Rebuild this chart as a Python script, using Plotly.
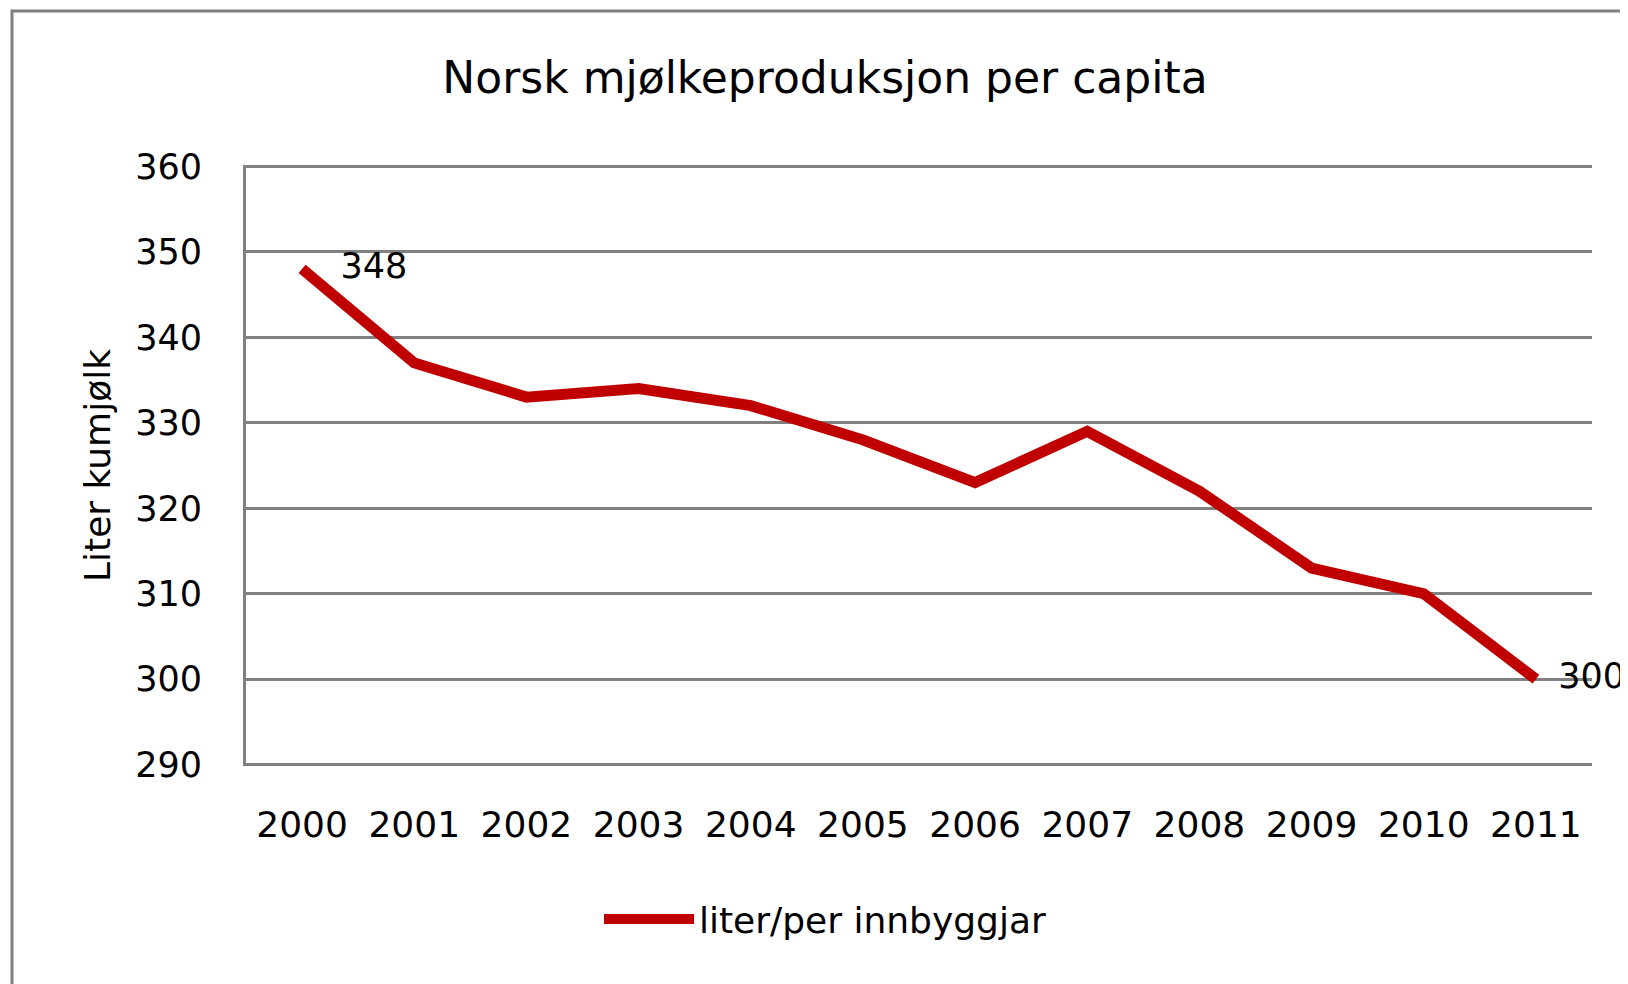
import plotly.graph_objects as go

years = ['2000', '2001', '2002', '2003', '2004', '2005',
         '2006', '2007', '2008', '2009', '2010', '2011']
litres = [348, 337, 333, 334, 332, 328, 323, 329, 322, 313, 310, 300]
y_ticks = [290, 300, 310, 320, 330, 340, 350, 360]

RED = '#C00000'
GREY = '#808080'

# page body has an 8px default margin, so the figure starts at (8, 8)
OFF = 8
W, H = 1628 - OFF, 984 - OFF
L, T = 246 - OFF, 166 - OFF - 1
pw, ph = 1346, 601
R, B = W - L - pw, H - T - ph


def px_x(x):
    return (x - OFF - L) / pw


def px_y(y):
    return (T + ph - (y - OFF)) / ph


fig = go.Figure()

# data labels on first and last point (invisible markers set the text offset)
lab_idx = [0, len(years) - 1]
fig.add_trace(go.Scatter(
    x=[years[i] for i in lab_idx], y=[litres[i] for i in lab_idx],
    text=[str(litres[i]) for i in lab_idx], mode='markers+text',
    textposition='middle right', showlegend=False, hoverinfo='skip',
    marker=dict(size=[60, 34], color='rgba(0,0,0,0)', line=dict(width=0)),
    textfont=dict(family='DejaVu Sans', size=35, color='black'),
    cliponaxis=False,
))

fig.add_trace(go.Scatter(
    x=years, y=litres, mode='lines', name='liter/per innbyggjar',
    line=dict(color=RED, width=11),
))

# outer chart frame
fig.add_shape(type='rect', xref='paper', yref='paper',
              x0=px_x(12), x1=px_x(1700), y0=px_y(1100), y1=px_y(11),
              line=dict(color=GREY, width=3), fillcolor='rgba(0,0,0,0)', layer='below')

fig.update_layout(
    width=W, height=H,
    margin=dict(l=L, r=R, t=T, b=B),
    paper_bgcolor='white', plot_bgcolor='white',
    title=dict(text='Norsk mjølkeproduksjon per capita', x=(825 - OFF) / W, xref='container',
               xanchor='center', y=1 - (78 - OFF) / H, yref='container', yanchor='middle',
               font=dict(family='DejaVu Sans', size=44, color='black')),
    showlegend=True,
    legend=dict(orientation='h', x=px_x(599), xanchor='left', y=px_y(919), yanchor='middle',
                font=dict(family='DejaVu Sans', size=36, color='black'),
                itemwidth=90, bgcolor='rgba(0,0,0,0)'),
    xaxis=dict(type='category', categoryorder='array', categoryarray=years,
               range=[-0.5, 11.5], showgrid=False, showline=False,
               ticks='', ticklabelstandoff=34,
               tickfont=dict(family='DejaVu Sans', size=36, color='black')),
    yaxis=dict(range=[289.85, 360.15], tickvals=y_ticks, showgrid=True, gridcolor=GREY,
               gridwidth=3, showline=True, linecolor=GREY, linewidth=3, zeroline=False,
               ticks='', ticklabelstandoff=34,
               tickfont=dict(family='DejaVu Sans', size=35, color='black'),
               title=dict(text='Liter kumjølk', standoff=14,
                          font=dict(family='DejaVu Sans', size=36, color='black'))),
)

fig.write_html('out.html')
